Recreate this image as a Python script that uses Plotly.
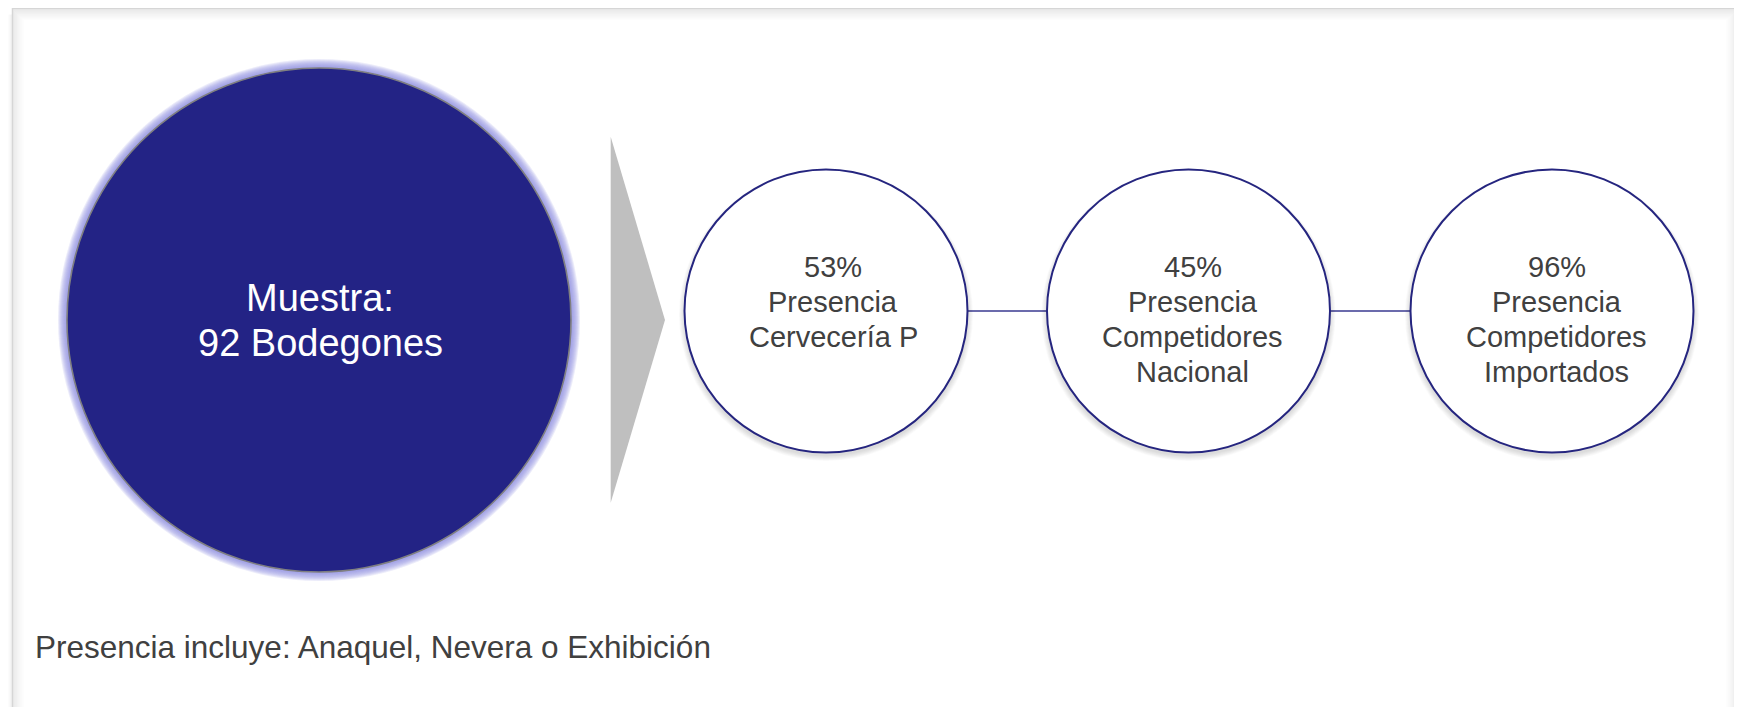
import plotly.graph_objects as go

# ---- data ----
sample_label = "Muestra:"
sample_size = 92
sample_unit = "Bodegones"
percentages = [53, 45, 96]
category_lines = [
    ["Presencia", "Cervecería P"],
    ["Presencia", "Competidores", "Nacional"],
    ["Presencia", "Competidores", "Importados"],
]
footnote = "Presencia incluye: Anaquel, Nevera o Exhibición"

# ---- layout constants ----
W, H = 1742, 707
OFF = 8  # default page body margin
NAVY = "#232385"
TXT = "#404040"
FONT = "Liberation Sans, Arial, sans-serif"

big_cx, big_cy, big_r = 319, 320, 252
small_cx = [826, 1188.5, 1552]
text_dx = [7, 4, 4.5]
small_cy, small_r = 311, 141.5

shapes = []

# frame with soft inner shadow
fx0, fy0, fx1, fy1 = 12.5, 8.6, 1737.5, 760
for k in range(1, 12):
    a = 0.075 * (1 - k / 12)
    shapes.append(dict(type="rect", xref="x", yref="y", x0=fx0 + k, y0=fy0 + k,
                       x1=fx1 - k, y1=fy1, line=dict(color=f"rgba(0,0,0,{a:.3f})", width=1.2),
                       fillcolor="rgba(0,0,0,0)", layer="below"))
for k in range(1, 5):
    a = 0.06 * (1 - k / 5)
    shapes.append(dict(type="line", xref="x", yref="y", x0=fx0 - k, y0=fy0 + 6,
                       x1=fx0 - k, y1=fy1, line=dict(color=f"rgba(0,0,0,{a:.3f})", width=1.2),
                       layer="below"))
shapes.append(dict(type="rect", xref="x", yref="y", x0=fx0, y0=fy0, x1=fx1, y1=fy1,
                   line=dict(color="#d6d6d6", width=1.5), fillcolor="rgba(0,0,0,0)"))

# big circle glow
for g in range(9, 0, -1):
    shapes.append(dict(type="circle", xref="x", yref="y",
                       x0=big_cx - big_r - g, x1=big_cx + big_r + g,
                       y0=big_cy - big_r - g, y1=big_cy + big_r + g,
                       fillcolor="rgba(145,145,225,0.17)", line=dict(width=0)))
shapes.append(dict(type="circle", xref="x", yref="y",
                   x0=big_cx - big_r, x1=big_cx + big_r,
                   y0=big_cy - big_r, y1=big_cy + big_r,
                   fillcolor=NAVY, line=dict(color="#7f7f80", width=1.6)))

# arrow
shapes.append(dict(type="path", xref="x", yref="y",
                   path="M 610.7 136.7 L 665 320 L 610.7 502.7 Z",
                   fillcolor="#bfbfbf", line=dict(width=0)))

# connectors
for i in range(len(small_cx) - 1):
    shapes.append(dict(type="line", xref="x", yref="y",
                       x0=small_cx[i] + small_r, x1=small_cx[i + 1] - small_r,
                       y0=small_cy, y1=small_cy, line=dict(color="#3a3a90", width=1.5)))

# small circles with soft shadow
for cx in small_cx:
    for g in range(7, 0, -1):
        shapes.append(dict(type="circle", xref="x", yref="y",
                           x0=cx - small_r - g * 0.8, x1=cx + small_r + g * 0.8,
                           y0=small_cy - small_r - g * 0.5 + 3, y1=small_cy + small_r + g * 0.8 + 3,
                           fillcolor="rgba(0,0,0,0.02)", line=dict(width=0)))
    shapes.append(dict(type="circle", xref="x", yref="y",
                       x0=cx - small_r, x1=cx + small_r,
                       y0=small_cy - small_r, y1=small_cy + small_r,
                       fillcolor="white", line=dict(color="#25257f", width=2)))

annotations = []
# big circle text
for i, t in enumerate([sample_label, f"{sample_size} {sample_unit}"]):
    annotations.append(dict(x=big_cx + 1, y=298 + i * 45, xref="x", yref="y", text=t,
                            showarrow=False, xanchor="center", yanchor="middle",
                            font=dict(family=FONT, size=38, color="white")))
# small circle text
for cx, dx, p, lines in zip(small_cx, text_dx, percentages, category_lines):
    all_lines = [f"{p}%"] + lines
    for i, t in enumerate(all_lines):
        annotations.append(dict(x=cx + dx, y=267 + i * 35, xref="x", yref="y", text=t,
                                showarrow=False, xanchor="center", yanchor="middle",
                                font=dict(family=FONT, size=29, color=TXT)))
# footnote
annotations.append(dict(x=33, y=647, xref="x", yref="y", text=footnote, showarrow=False,
                        xanchor="left", yanchor="middle",
                        font=dict(family=FONT, size=31.5, color=TXT)))

fig = go.Figure()
fig.update_layout(
    width=W - OFF, height=H - OFF,
    margin=dict(l=0, r=0, t=0, b=0),
    paper_bgcolor="white", plot_bgcolor="white",
    xaxis=dict(range=[OFF, W], visible=False, fixedrange=True),
    yaxis=dict(range=[H, OFF], visible=False, fixedrange=True),
    shapes=shapes, annotations=annotations, showlegend=False,
)
fig.write_html("out.html", config={"displayModeBar": False})
